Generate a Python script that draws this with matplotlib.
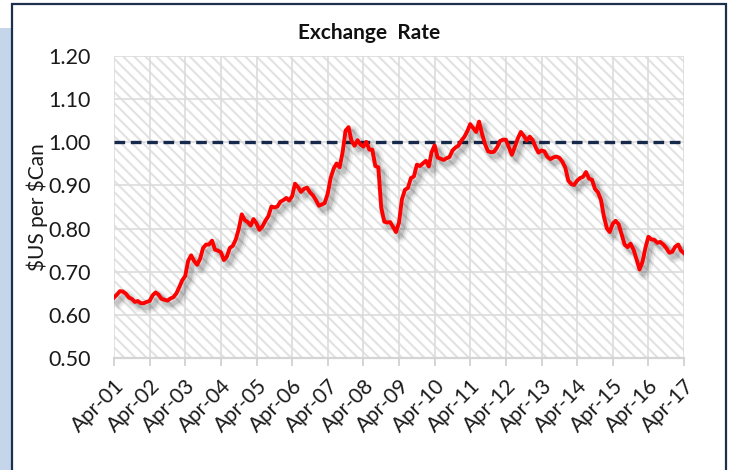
import matplotlib.pyplot as plt
import matplotlib.patheffects as pe
from matplotlib.patches import Rectangle
import pandas as pd

# monthly average, $US per $Can, Apr 2001 .. Apr 2017
rate = [
    0.640, 0.647, 0.655, 0.654, 0.649, 0.640, 0.637, 0.630, 0.632,
    0.627, 0.627, 0.630, 0.632, 0.645, 0.652, 0.647, 0.637, 0.635, 0.633, 0.638, 0.641,
    0.650, 0.665, 0.680, 0.690, 0.725, 0.738, 0.725, 0.716, 0.730, 0.755, 0.763, 0.763,
    0.772, 0.751, 0.749, 0.745, 0.727, 0.735, 0.755, 0.760, 0.775, 0.799, 0.833, 0.820,
    0.815, 0.807, 0.822, 0.812, 0.797, 0.805, 0.818, 0.829, 0.851, 0.849, 0.851, 0.862,
    0.866, 0.871, 0.865, 0.875, 0.904, 0.896, 0.885, 0.892, 0.895, 0.884, 0.877, 0.866,
    0.853, 0.856, 0.859, 0.881, 0.917, 0.939, 0.951, 0.942, 0.977, 1.027, 1.035, 1.003,
    0.992, 1.005, 0.995, 0.990, 1.001, 0.983, 0.983, 0.945, 0.942, 0.848, 0.816, 0.814,
    0.815, 0.803, 0.792, 0.814, 0.868, 0.890, 0.894, 0.917, 0.921, 0.948, 0.945, 0.951,
    0.957, 0.944, 0.977, 0.993, 0.965, 0.962, 0.959, 0.963, 0.966, 0.981, 0.988, 0.992,
    1.004, 1.013, 1.025, 1.042, 1.033, 1.024, 1.048, 1.019, 0.995, 0.979, 0.977, 0.978,
    0.988, 1.003, 1.006, 1.006, 0.989, 0.971, 0.989, 1.009, 1.024, 1.015, 1.004, 1.013,
    1.005, 0.988, 0.976, 0.981, 0.979, 0.966, 0.961, 0.965, 0.967, 0.964, 0.955, 0.941,
    0.911, 0.903, 0.901, 0.911, 0.917, 0.920, 0.931, 0.916, 0.913, 0.892, 0.884, 0.867,
    0.828, 0.800, 0.792, 0.811, 0.818, 0.810, 0.787, 0.763, 0.757, 0.765, 0.751, 0.729,
    0.705, 0.723, 0.755, 0.781, 0.775, 0.774, 0.767, 0.769, 0.763, 0.755, 0.744, 0.746,
    0.758, 0.763, 0.749, 0.743,
]
months = pd.date_range('2001-04-01', periods=len(rate), freq='MS')
tick_dates = pd.date_range('2001-04-01', '2017-04-01', freq='12MS')
tick_labels = ['Apr-%02d' % (d.year % 100) for d in tick_dates]
parity = 1.00

plt.rcParams['hatch.linewidth'] = 1.5

fig = plt.figure(figsize=(7.3, 4.7), dpi=100)
fig.patch.set_facecolor('white')

# outer decorations
fig.add_artist(Rectangle((0, 0), 12 / 730, (470 - 28) / 470, transform=fig.transFigure,
                         facecolor='#c6d6ea', edgecolor='none', zorder=0))
fig.add_artist(Rectangle((12 / 730, -0.05), (726 - 12) / 730, 1.05 - 4 / 470,
                         transform=fig.transFigure, facecolor='white',
                         edgecolor='#1c2f4d', linewidth=1.6, zorder=0))

ax = fig.add_axes([114 / 730, (470 - 358) / 470, 570 / 730, 302 / 470])
ax.set_facecolor('white')
ax.add_patch(Rectangle((0, 0), 1, 1, transform=ax.transAxes, facecolor='white',
                       edgecolor='#e2e2e2', hatch='\\\\\\', linewidth=0, zorder=0))

ax.plot(months, rate, color='#ff0000', linewidth=2.8, zorder=4,
        path_effects=[pe.SimpleLineShadow(offset=(3, -3), shadow_color='black', alpha=0.06, linewidth=9),
                      pe.SimpleLineShadow(offset=(3, -3), shadow_color='black', alpha=0.08, linewidth=6),
                      pe.SimpleLineShadow(offset=(3, -3), shadow_color='black', alpha=0.12, linewidth=3.5),
                      pe.Normal()])
ax.plot([tick_dates[0], tick_dates[-1]], [parity, parity], color='#17294a',
        linewidth=2.4, linestyle=(0, (3.2, 1.7)), zorder=3)

ax.set_xlim(tick_dates[0], tick_dates[-1])
ax.set_ylim(0.5, 1.2)
ax.set_yticks([0.5, 0.6, 0.7, 0.8, 0.9, 1.0, 1.1, 1.2])
ax.set_yticklabels(['%.2f' % v for v in ax.get_yticks()])
ax.set_xticks(tick_dates)
ax.set_xticklabels(tick_labels, rotation=45, ha='right', rotation_mode='anchor')

ax.grid(True, color='#dcdcdc', linewidth=1.2, zorder=1)
ax.set_axisbelow(True)
for s in ['left', 'right', 'top']:
    ax.spines[s].set_visible(False)
ax.spines['bottom'].set_color('#d4d4d4')
ax.spines['bottom'].set_linewidth(1.6)

ax.tick_params(axis='y', length=0, pad=17, labelsize=15.5, labelcolor='#1a1a1a')
ax.tick_params(axis='x', length=6, width=1.4, color='#d4d4d4', pad=7,
               labelsize=15, labelcolor='#1a1a1a')
for lab in ax.get_xticklabels() + ax.get_yticklabels():
    lab.set_fontfamily('Lato')

ax.set_ylabel(r'\$US per \$Can', fontsize=15, fontfamily='Lato', color='#1a1a1a', labelpad=0)
fig.text(369 / 730, 1 - 33 / 470, 'Exchange  Rate', ha='center', va='center',
         fontsize=15, fontweight='bold', fontfamily='Lato', color='#111111')

fig.savefig('out.png', dpi=100)
